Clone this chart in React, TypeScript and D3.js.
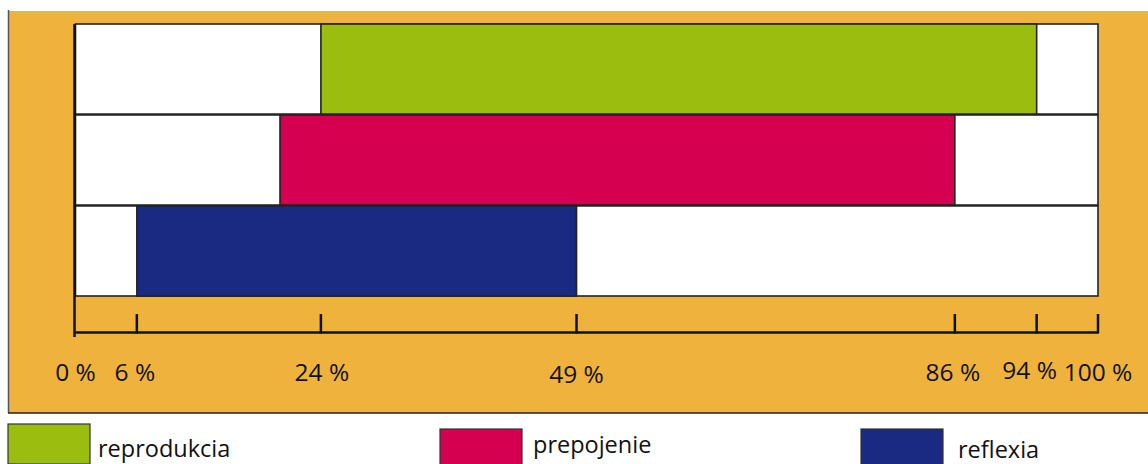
import React from "react";
import * as d3 from "d3";

// Rows of the chart, top to bottom
const categories = ["reprodukcia", "prepojenie", "reflexia"];
// Each bar spans from a start to an end percentage
const barStarts = [24, 20, 6];
const barEnds = [94, 86, 49];
const colors = ["#9ABD10", "#D5004F", "#1A2A82"];
// Axis tick values (percent)
const tickValues = [0, 6, 24, 49, 86, 94, 100];
// Legend entries
const legendLabels = ["reprodukcia", "prepojenie", "reflexia"];

const W = 1148;
const H = 464;
const FONT = "'Open Sans', 'DejaVu Sans', sans-serif";

// Layout tweaks for hand-placed text
const labelNudge: Record<number, [number, number]> = {
  0: [0, 0],
  6: [-2, 0],
  24: [1, 0],
  49: [0, 2],
  86: [-2, 0],
  94: [-7, -2],
  100: [0, 0],
};
const legendLayout = [
  { x: 8, y: 424, textDx: 90, textY: 33 },
  { x: 440, y: 429, textDx: 93, textY: 24 },
  { x: 861, y: 429, textDx: 97, textY: 29 },
];

export default function App() {
  const x = d3.scaleLinear().domain([0, 100]).range([75.5, 1098]);
  const y = d3.scaleBand<string>().domain(categories).range([24, 296]).paddingInner(0.01);
  const axisY = 332.5;

  return (
    <div style={{ position: "absolute", left: 0, top: 0 }}>
      <svg width={W} height={H} style={{ display: "block" }}>
        <rect x={0} y={0} width={W} height={H} fill="#ffffff" />
        {/* panel background */}
        <rect x={8} y={11} width={W - 8} height={402} fill="#EFB23D" />
        <line x1={8.5} x2={8.5} y1={10} y2={413} stroke="#555" strokeWidth={1.5} />
        <line x1={8} x2={W} y1={413} y2={413} stroke="#222" strokeWidth={1.5} />

        {/* row frames and bars */}
        {categories.map((c, i) => (
          <g key={c}>
            <rect
              x={x(0)}
              y={y(c)!}
              width={x(100) - x(0)}
              height={y.bandwidth()}
              fill="#ffffff"
              stroke="#222"
              strokeWidth={1.6}
            />
            <rect
              x={x(barStarts[i])}
              y={y(c)!}
              width={x(barEnds[i]) - x(barStarts[i])}
              height={y.bandwidth()}
              fill={colors[i]}
              stroke="#222"
              strokeWidth={1.6}
            />
          </g>
        ))}

        {/* axes */}
        <line x1={74.5} x2={74.5} y1={24} y2={337} stroke="#111" strokeWidth={2.5} />
        <line x1={x(0)} x2={x(100)} y1={axisY} y2={axisY} stroke="#111" strokeWidth={2.5} />
        {tickValues.map((t) => {
          const [dx, dy] = labelNudge[t] || [0, 0];
          return (
            <g key={t}>
              {t > 0 && (
                <line x1={x(t)} x2={x(t)} y1={314} y2={axisY + 1} stroke="#111" strokeWidth={2.5} />
              )}
              <text
                x={x(t) + dx}
                y={381 + dy}
                textAnchor="middle"
                fontFamily={FONT}
                fontSize={24.5}
                fill="#111"
              >
                {`${t} %`}
              </text>
            </g>
          );
        })}

        {/* legend */}
        {legendLabels.map((l, i) => {
          const L = legendLayout[i];
          return (
            <g key={l} transform={`translate(${L.x}, ${L.y})`}>
              <rect x={0} y={0} width={82} height={40} fill={colors[i]} stroke="#333" strokeWidth={1.2} />
              <text x={L.textDx} y={L.textY} fontFamily={FONT} fontSize={23.5} fill="#111">
                {l}
              </text>
            </g>
          );
        })}
      </svg>
    </div>
  );
}
